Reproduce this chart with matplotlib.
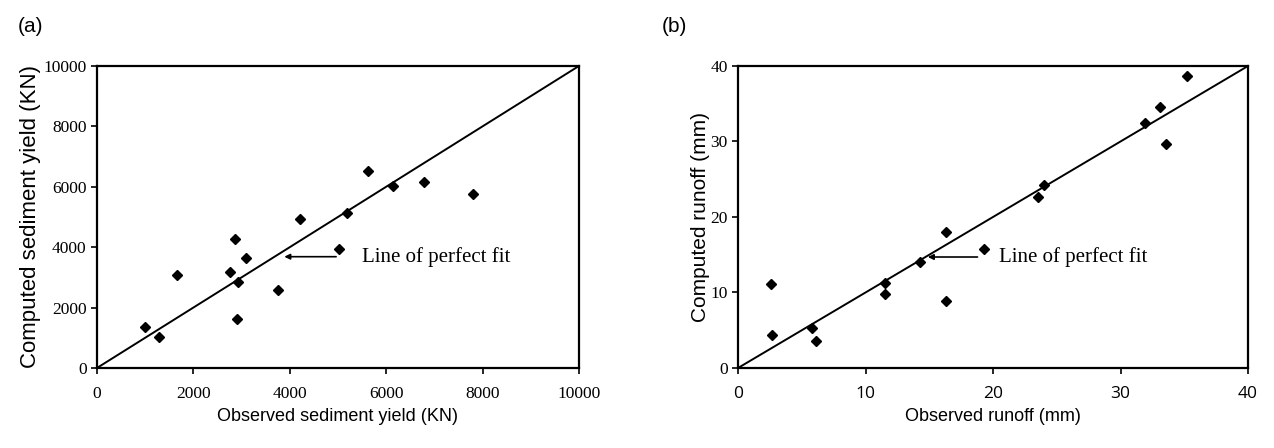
import matplotlib.pyplot as plt

# (a) sediment yield, KN
obs_sed = [996, 1286, 1660, 2760, 2930, 2905, 3090, 2860, 3760, 5030,
           4210, 5180, 5620, 6140, 6790, 7800]
com_sed = [1358, 1026, 3080, 3170, 2860, 1620, 3640, 4270, 2580, 3930,
           4920, 5120, 6520, 6030, 6160, 5760]
sed_ticks = [0, 2000, 4000, 6000, 8000, 10000]

# (b) runoff, mm
obs_run = [2.6, 2.7, 5.8, 6.1, 11.5, 11.5, 14.3, 16.3, 16.3, 19.3,
           35.2, 33.1, 31.9, 33.6, 24.0, 23.5]
com_run = [11.1, 4.4, 5.3, 3.6, 11.2, 9.8, 14.1, 18.0, 8.9, 15.7,
           38.7, 34.6, 32.5, 29.7, 24.2, 22.6]
run_ticks = [0, 10, 20, 30, 40]

serif = 'Liberation Serif'
sans = 'Liberation Sans'

fig = plt.figure(figsize=(12.74, 4.48), dpi=100)
ax1 = fig.add_axes([0.0761, 0.1786, 0.3783, 0.6741])
ax2 = fig.add_axes([0.5793, 0.1786, 0.4003, 0.6741])

panels = [
    (ax1, obs_sed, com_sed, sed_ticks, 'Observed sediment yield (KN)',
     'Computed sediment yield (KN)', '(a)', (5020, 3830, 3685, 5500)),
    (ax2, obs_run, com_run, run_ticks, 'Observed runoff (mm)',
     'Computed runoff (mm)', '(b)', (19.0, 14.67, 14.7, 20.5)),
]

for ax, xs, ys, ticks, xl, yl, tag, (tail, head, ya, xt) in panels:
    lim = ticks[-1]
    ax.plot([0, lim], [0, lim], color='black', lw=1.4)
    ax.plot(xs, ys, 'D', color='black', markersize=5.5)
    ax.set_xlim(0, lim)
    ax.set_ylim(0, lim)
    ax.set_xticks(ticks)
    ax.set_yticks(ticks)
    ax.tick_params(direction='out', length=4, width=1.2, labelsize=12.5)
    ax.tick_params(axis='x', pad=9)
    for lab in ax.get_yticklabels():
        lab.set_family(serif)
    for lab in ax.get_xticklabels():
        lab.set_family(serif if ax is ax1 else 'Open Sans')
    for sp in ax.spines.values():
        sp.set_linewidth(1.6)
    ax.set_xlabel(xl, fontsize=13, family=sans, labelpad=4)
    ax.set_ylabel(yl, fontsize=16 if ax is ax1 else 15, family=sans,
                  labelpad=2 if ax is ax1 else 0)
    ax.annotate('', xy=(head, ya), xytext=(tail, ya),
                arrowprops=dict(arrowstyle='-|>', color='black', lw=1.2,
                                mutation_scale=8))
    ax.text(xt, ya, 'Line of perfect fit', family=serif, fontsize=15,
            va='center', ha='left')
    ax.text(-0.165 if ax is ax1 else -0.15, 1.13, tag, transform=ax.transAxes,
            fontsize=15, family=sans, va='center', ha='left')

fig.savefig('out.png', dpi=100)
